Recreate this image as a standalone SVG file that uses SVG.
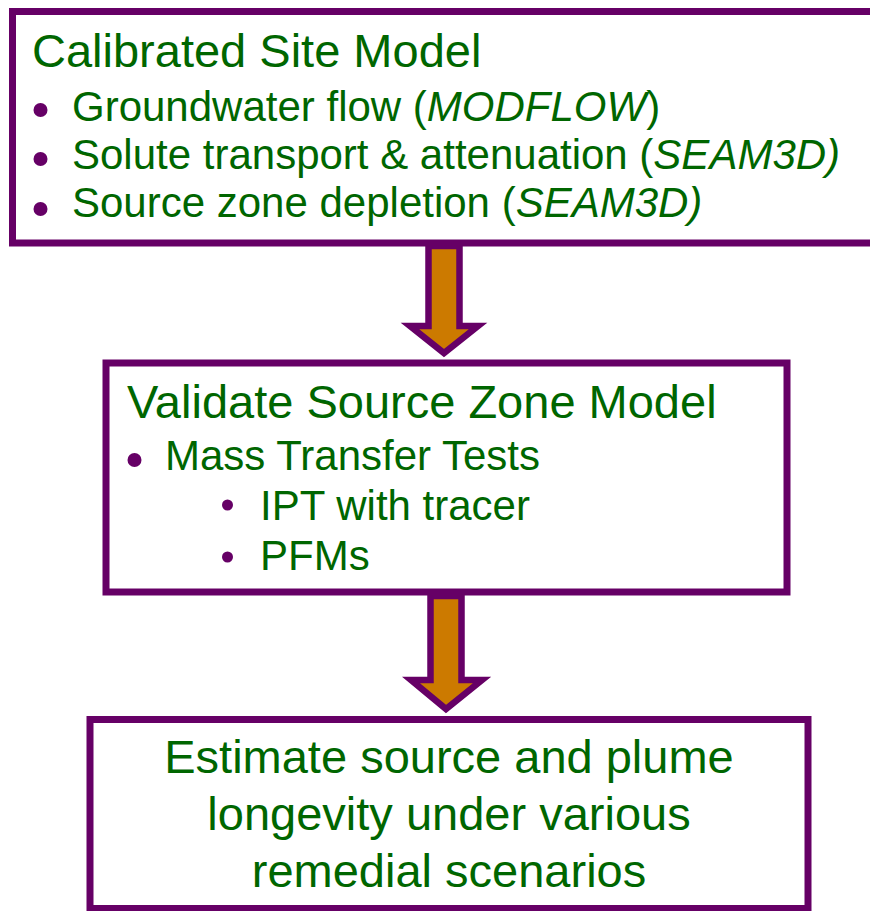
<svg xmlns="http://www.w3.org/2000/svg" width="870" height="911" viewBox="0 0 870 911">
<style>
.box{fill:#ffffff;stroke:#660066;stroke-width:7}
.arrow{fill:#CC7A00;stroke:#660066;stroke-width:6.5;stroke-linejoin:miter}
text{font-family:"Liberation Sans",Arial,sans-serif;fill:#006600}
.t{font-size:47px}
.b{font-size:42px}
.i{font-style:italic}
.dot{fill:#660066}
</style>
<rect width="870" height="911" fill="#ffffff"/>
<g id="connectors">
<polygon class="arrow" points="428.5,246 459.5,246 459.5,326 478,326 444,353 410,326 428.5,326"/>
<polygon class="arrow" points="430.5,596 461.5,596 461.5,680 482,680 446,709 411,680 430.5,680"/>
</g>
<g id="node1">
<rect class="box" x="12.5" y="11.5" width="870" height="231.5"/>
<text class="t" x="32" y="67">Calibrated Site Model</text>
<circle class="dot" cx="40.5" cy="110" r="7"/>
<text class="b" x="72" y="121">Groundwater flow (<tspan class="i">MODFLOW</tspan>)</text>
<circle class="dot" cx="40.5" cy="159" r="7"/>
<text class="b" x="72" y="169">Solute transport &amp; attenuation (<tspan class="i">SEAM3D)</tspan></text>
<circle class="dot" cx="40.5" cy="209" r="7"/>
<text class="b" x="72" y="217">Source zone depletion (<tspan class="i">SEAM3D)</tspan></text>
</g>
<g id="node2">
<rect class="box" x="106" y="363" width="681" height="229"/>
<text class="t" x="127" y="418">Validate Source Zone Model</text>
<circle class="dot" cx="134.5" cy="460" r="7"/>
<text class="b" x="165" y="470">Mass Transfer Tests</text>
<circle class="dot" cx="227.5" cy="505" r="5.5"/>
<text class="b" x="260" y="520">IPT with tracer</text>
<circle class="dot" cx="227.5" cy="557" r="5.5"/>
<text class="b" x="260" y="570">PFMs</text>
</g>
<g id="node3">
<rect class="box" x="90" y="719.5" width="718" height="189"/>
<text class="t" x="449" y="773" text-anchor="middle">Estimate source and plume</text>
<text class="t" x="449" y="830" text-anchor="middle">longevity under various</text>
<text class="t" x="449" y="887" text-anchor="middle">remedial scenarios</text>
</g>
</svg>
